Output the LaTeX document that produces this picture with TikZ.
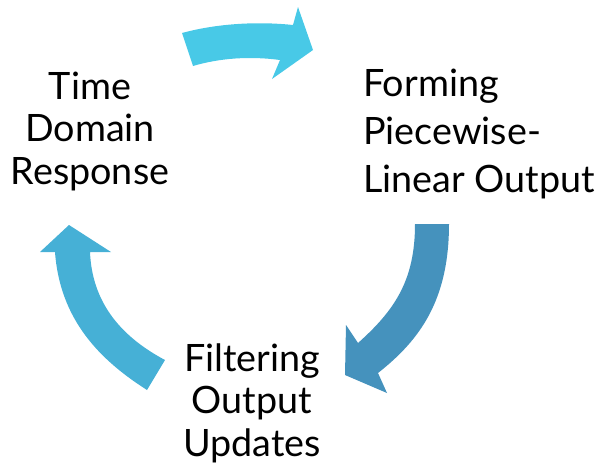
\documentclass[tikz,border=0pt]{standalone}
\usepackage{fontspec}
\setmainfont{Lato}
\definecolor{arrTop}{RGB}{72,201,231}
\definecolor{arrRight}{RGB}{69,146,189}
\definecolor{arrLeft}{RGB}{70,176,214}
\begin{document}
\begin{tikzpicture}[x=1pt,y=-1pt,
  lbl/.style={font=\fontsize{37.7}{42.5}\selectfont, inner sep=0pt, text=black},
  lblwide/.style={font=\fontsize{37.7}{48}\selectfont, inner sep=0pt, text=black}]
\useasboundingbox (0,0) rectangle (597,466);
% top arrow
\fill[arrTop] (182,33) .. controls (215,24) and (255,21) .. (293,25) -- (298,7) -- (313,50) -- (272,79) -- (280,60)
  .. controls (250,56) and (220,58) .. (193,66) -- cycle;
% right arrow
\fill[arrRight] (415,224) -- (449,224) .. controls (449,300) and (420,340) .. (378,373) -- (387,393) -- (345,375)
  -- (346,325) -- (358,343) .. controls (395,310) and (415,280) .. (415,224) -- cycle;
% left arrow
\fill[arrLeft] (69,225) -- (111,252) -- (90,252) .. controls (92,300) and (118,335) .. (165,360) -- (147,390)
  .. controls (100,360) and (60,320) .. (55,252) -- (40,252) -- cycle;
% labels (anchor=base refers to the last line)
\node[lbl, align=center, anchor=base] (tdr) at (90,184.3) {Time\\Domain\\Response};
\node[lblwide, align=left, anchor=base west] (fplo) at (363,192) {Forming\\Piecewise-\\Linear Output};
\node[lbl, align=center, anchor=base] (fou) at (252,456) {Filtering\\Output\\Updates};
\end{tikzpicture}
\end{document}
